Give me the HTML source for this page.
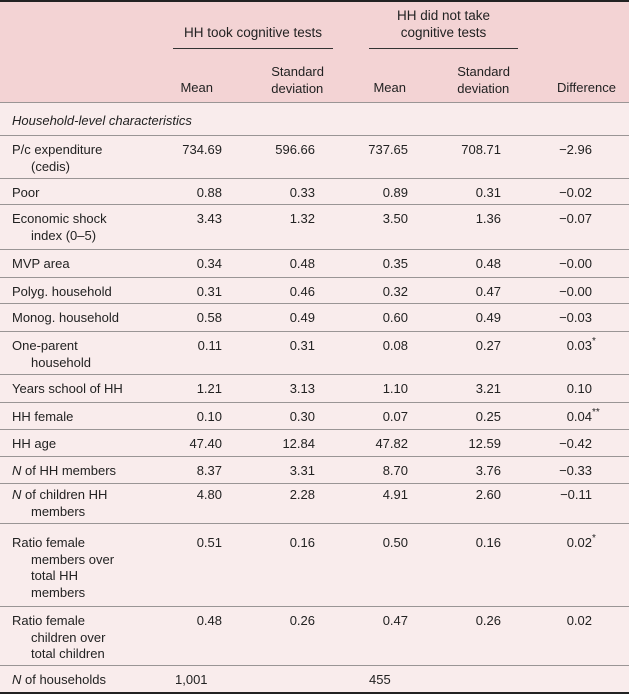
<!DOCTYPE html>
<html><head><meta charset="utf-8"><style>
body{margin:0;width:629px;height:694px;overflow:hidden;background:#f9ecec;font-family:"Liberation Sans",sans-serif;font-size:13px;color:#222;}
#t{position:relative;width:629px;height:694px;}
.r{position:absolute;left:0;width:629px;border-bottom:1.5px solid #9a9595;box-sizing:border-box;}
.c{position:absolute;top:6px;line-height:16.5px;white-space:nowrap;}
.l{left:12px;padding-left:19px;text-indent:-19px;width:103px;white-space:normal;}
.v1{right:407px}.v2{right:314px}.v3{right:221px}.v4{right:128px}.v5{right:37px}
.st{position:absolute;left:100%;top:-4px;font-size:10px;}
i{font-style:italic}
</style></head><body>
<div id="t">
<div style="position:absolute;left:0;top:0;width:629px;height:2px;background:#222"></div>
<div style="position:absolute;left:0;top:2px;width:629px;height:101px;background:#f3d3d4;border-bottom:1.5px solid #9a9595;box-sizing:border-box">
 <div style="position:absolute;left:173px;width:160px;top:23px;text-align:center;font-size:13.5px">HH took cognitive tests</div>
 <div style="position:absolute;left:173px;width:160px;top:46px;height:1px;background:#333"></div>
 <div style="position:absolute;left:369px;width:149px;top:6px;text-align:center;line-height:16.5px;font-size:13.5px">HH did not take<br>cognitive tests</div>
 <div style="position:absolute;left:369px;width:149px;top:46px;height:1px;background:#333"></div>
 <div style="position:absolute;right:416px;top:78px">Mean</div>
 <div style="position:absolute;right:305px;top:62px;line-height:16.5px;text-align:left">Standard<br>deviation</div>
 <div style="position:absolute;right:223px;top:78px">Mean</div>
 <div style="position:absolute;right:119px;top:62px;line-height:16.5px;text-align:left">Standard<br>deviation</div>
 <div style="position:absolute;right:13px;top:78px">Difference</div>
</div>
<div class="r" style="top:103px;height:33px"><div class="c" style="left:12px;top:10px"><i>Household-level characteristics</i></div></div>

<div class="r" style="top:136px;height:43px"><div class="c l">P/c expenditure (cedis)</div><div class="c v1">734.69</div><div class="c v2">596.66</div><div class="c v3">737.65</div><div class="c v4">708.71</div><div class="c v5">−2.96</div></div>
<div class="r" style="top:179px;height:26px"><div class="c l">Poor</div><div class="c v1">0.88</div><div class="c v2">0.33</div><div class="c v3">0.89</div><div class="c v4">0.31</div><div class="c v5">−0.02</div></div>
<div class="r" style="top:205px;height:45px"><div class="c l">Economic shock index (0–5)</div><div class="c v1">3.43</div><div class="c v2">1.32</div><div class="c v3">3.50</div><div class="c v4">1.36</div><div class="c v5">−0.07</div></div>
<div class="r" style="top:250px;height:28px"><div class="c l">MVP area</div><div class="c v1">0.34</div><div class="c v2">0.48</div><div class="c v3">0.35</div><div class="c v4">0.48</div><div class="c v5">−0.00</div></div>
<div class="r" style="top:278px;height:26px"><div class="c l">Polyg. household</div><div class="c v1">0.31</div><div class="c v2">0.46</div><div class="c v3">0.32</div><div class="c v4">0.47</div><div class="c v5">−0.00</div></div>
<div class="r" style="top:304px;height:28px"><div class="c l">Monog. household</div><div class="c v1">0.58</div><div class="c v2">0.49</div><div class="c v3">0.60</div><div class="c v4">0.49</div><div class="c v5">−0.03</div></div>
<div class="r" style="top:332px;height:43px"><div class="c l">One-parent household</div><div class="c v1">0.11</div><div class="c v2">0.31</div><div class="c v3">0.08</div><div class="c v4">0.27</div><div class="c v5">0.03<span class="st">*</span></div></div>
<div class="r" style="top:375px;height:28px"><div class="c l">Years school of HH</div><div class="c v1">1.21</div><div class="c v2">3.13</div><div class="c v3">1.10</div><div class="c v4">3.21</div><div class="c v5">0.10</div></div>
<div class="r" style="top:403px;height:27px"><div class="c l">HH female</div><div class="c v1">0.10</div><div class="c v2">0.30</div><div class="c v3">0.07</div><div class="c v4">0.25</div><div class="c v5">0.04<span class="st">**</span></div></div>
<div class="r" style="top:430px;height:27px"><div class="c l">HH age</div><div class="c v1">47.40</div><div class="c v2">12.84</div><div class="c v3">47.82</div><div class="c v4">12.59</div><div class="c v5">−0.42</div></div>
<div class="r" style="top:457px;height:27px"><div class="c l"><i>N</i> of HH members</div><div class="c v1">8.37</div><div class="c v2">3.31</div><div class="c v3">8.70</div><div class="c v4">3.76</div><div class="c v5">−0.33</div></div>
<div class="r" style="top:484px;height:40px"><div class="c l" style="top:3px"><i>N</i> of children HH members</div><div class="c v1" style="top:3px">4.80</div><div class="c v2" style="top:3px">2.28</div><div class="c v3" style="top:3px">4.91</div><div class="c v4" style="top:3px">2.60</div><div class="c v5" style="top:3px">−0.11</div></div>
<div class="r" style="top:524px;height:83px"><div class="c l" style="top:11px">Ratio female members over total HH members</div><div class="c v1" style="top:11px">0.51</div><div class="c v2" style="top:11px">0.16</div><div class="c v3" style="top:11px">0.50</div><div class="c v4" style="top:11px">0.16</div><div class="c v5" style="top:11px">0.02<span class="st">*</span></div></div>
<div class="r" style="top:607px;height:59px"><div class="c l">Ratio female children over<br>total children</div><div class="c v1">0.48</div><div class="c v2">0.26</div><div class="c v3">0.47</div><div class="c v4">0.26</div><div class="c v5">0.02</div></div>
<div class="r" style="top:666px;height:28px;border-bottom:2px solid #222"><div class="c l" style="top:6px"><i>N</i> of households</div><div class="c" style="left:175px;top:6px">1,001</div><div class="c" style="left:369px;top:6px">455</div></div>
</div>
</body></html>
